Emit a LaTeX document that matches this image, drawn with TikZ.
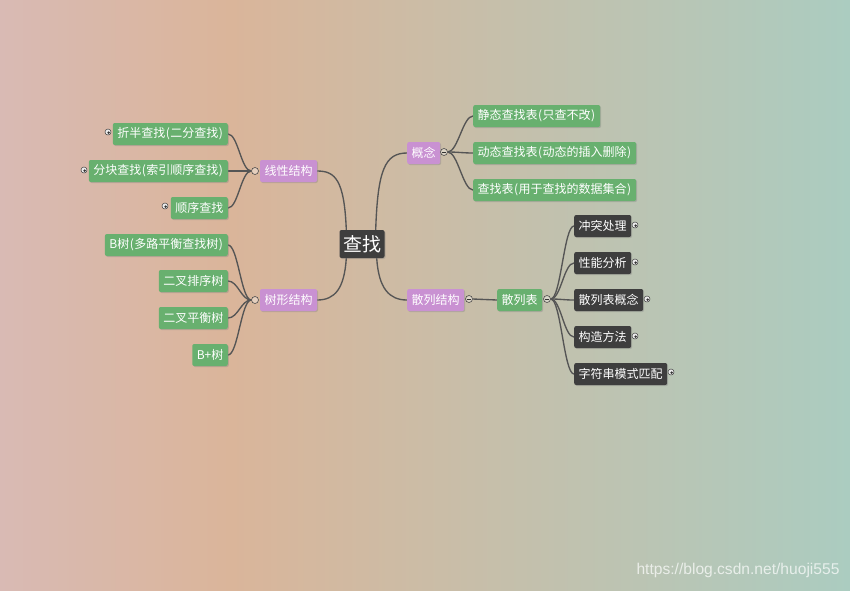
\documentclass[tikz,border=0pt]{standalone}
\usepackage{fontspec}
\newfontfamily\cjk{Noto Sans CJK SC}
\newfontfamily\wmfont{Liberation Sans}
\usetikzlibrary{shadows}
\definecolor{bgleft}{HTML}{D9BAB4}
\definecolor{bgmid}{HTML}{DAB59A}
\definecolor{bgright}{HTML}{ABCCC0}
\definecolor{leafgreen}{HTML}{68B06F}
\definecolor{topicpurple}{HTML}{C991D2}
\definecolor{rootdark}{HTML}{3E3E3E}
\definecolor{linkgray}{HTML}{555555}
\newcommand{\opar}{\makebox[5pt]{(}}
\newcommand{\cpar}{\makebox[5pt]{)}}
\pgfdeclarelayer{bg}
\pgfdeclarelayer{edges}
\pgfsetlayers{bg,edges,main}
\tikzset{
box/.style={rounded corners=2pt, text=white, font=\cjk\fontsize{12}{14}\selectfont,
  inner xsep=4.5pt, inner ysep=0pt, minimum height=22pt,
  drop shadow={opacity=0.35, shadow xshift=1pt, shadow yshift=-1pt}},
rootbox/.style={box, fill=rootdark, font=\cjk\fontsize{19}{20}\selectfont, minimum height=28pt,
  inner xsep=3.5pt},
topic/.style={box, fill=topicpurple},
leaf/.style={box, fill=leafgreen},
darkleaf/.style={box, fill=rootdark},
link/.style={draw=linkgray, line width=1.35pt},
openknob/.style={circle, draw=gray!60!black, line width=0.6pt, fill=white, fill opacity=0.35,
  draw opacity=1, inner sep=0pt, minimum size=7pt},
minusknob/.style={openknob, path picture={
  \draw[gray!40!black, line width=0.6pt] ([xshift=1.5pt]path picture bounding box.west)
    -- ([xshift=-1.5pt]path picture bounding box.east);}},
shutknob/.style={circle, draw=gray!50!black, line width=0.5pt, fill=white!85!gray,
  inner sep=0pt, minimum size=6pt, path picture={
  \fill[gray!40!black] ([xshift=0.6pt,yshift=-0.6pt]path picture bounding box.center) circle (1.3pt);}}
}

\begin{document}
\begin{tikzpicture}[x=1pt,y=-1pt]
  \useasboundingbox (0,0) rectangle (850,590);
  \begin{pgfonlayer}{bg}
  \shade[left color=bgleft, right color=bgmid] (0,0) rectangle (230,590);
  \shade[left color=bgmid, right color=bgright] (230,0) rectangle (850,590);
  \end{pgfonlayer}

  \node[rootbox] (root) at (362,244) {查找};

  % left half
  \node[topic] (linear) at (288.5,171) {线性结构};
  \node[openknob] (linear-k) at (255,171) {};
  \node[leaf, anchor=east] (binsearch) at (228,134) {折半查找\opar 二分查找\cpar};
  \node[leaf, anchor=east] (blocksearch) at (228,171) {分块查找\opar 索引顺序查找\cpar};
  \node[leaf, anchor=east] (seqsearch) at (228,208) {顺序查找};
  \node[shutknob] (binsearch-k) at (108,132) {};
  \node[shutknob] (blocksearch-k) at (84,170) {};
  \node[shutknob] (seqsearch-k) at (165,206) {};

  \node[topic] (tree) at (288.5,300) {树形结构};
  \node[openknob] (tree-k) at (255,300) {};
  \node[leaf, anchor=east] (btree) at (228,245) {B树\opar 多路平衡查找树\cpar};
  \node[leaf, anchor=east] (bst) at (228,281) {二叉排序树};
  \node[leaf, anchor=east] (avl) at (228,318) {二叉平衡树};
  \node[leaf, anchor=east] (bplus) at (228,355) {B+树};

  % right half
  \node[topic, anchor=west] (concept) at (407,153) {概念};
  \node[minusknob] (concept-k) at (444,152) {};
  \node[leaf, anchor=west] (statictab) at (473,116) {静态查找表\opar 只查不改\cpar};
  \node[leaf, anchor=west] (dyntab) at (473,153) {动态查找表\opar 动态的插入删除\cpar};
  \node[leaf, anchor=west] (searchtab) at (473,190) {查找表\opar 用于查找的数据集合\cpar};

  \node[topic, anchor=west] (hashing) at (407,300) {散列结构};
  \node[minusknob] (hashing-k) at (469,299) {};
  \node[leaf, anchor=west] (hashtab) at (497,300) {散列表};
  \node[minusknob] (hashtab-k) at (547,299) {};
  \node[darkleaf, anchor=west] (collide) at (574,226) {冲突处理};
  \node[darkleaf, anchor=west] (perf) at (574,263) {性能分析};
  \node[darkleaf, anchor=west] (hashidea) at (574,300) {散列表概念};
  \node[darkleaf, anchor=west] (construct) at (574,337) {构造方法};
  \node[darkleaf, anchor=west] (strmatch) at (574,374) {字符串模式匹配};
  \node[shutknob] (collide-k) at (635,225) {};
  \node[shutknob] (perf-k) at (635,262) {};
  \node[shutknob] (hashidea-k) at (647,299) {};
  \node[shutknob] (construct-k) at (635,336) {};
  \node[shutknob] (strmatch-k) at (671,372) {};

  \node[font=\wmfont\fontsize{15.6}{17}\selectfont, text=white, text opacity=0.7, anchor=east]
    (mark) at (843,570) {https://blog.csdn.net/huoji555};

  \begin{pgfonlayer}{edges}
  \draw[link] ([xshift=7pt]root.north west) .. controls +(-2,-50) and +(18,0) .. (linear.east);
  \draw[link] ([xshift=7pt]root.south west) .. controls +(-2,30) and +(18,0) .. (tree.east);
  \draw[link] ([xshift=-9pt]root.north east) .. controls +(2,-60) and +(-22,0) .. (concept.west);
  \draw[link] ([xshift=-8pt]root.south east) .. controls +(2,30) and +(-18,0) .. (hashing.west);
  \foreach \c in {binsearch,blocksearch,seqsearch}
    \draw[link] (linear-k.west) .. controls +(-10,0) and +(10,0) .. (\c.east);
  \foreach \c in {btree,bst,avl,bplus}
    \draw[link] (tree-k.west) .. controls +(-10,0) and +(10,0) .. (\c.east);
  \foreach \c in {statictab,dyntab,searchtab}
    \draw[link] (concept-k.east) .. controls +(10,0) and +(-10,0) .. (\c.west);
  \draw[link] (hashing-k.east) -- (hashtab.west);
  \foreach \c in {collide,perf,hashidea,construct,strmatch}
    \draw[link] (hashtab-k.east) .. controls +(10,0) and +(-10,0) .. (\c.west);
  \end{pgfonlayer}
\end{tikzpicture}
\end{document}
